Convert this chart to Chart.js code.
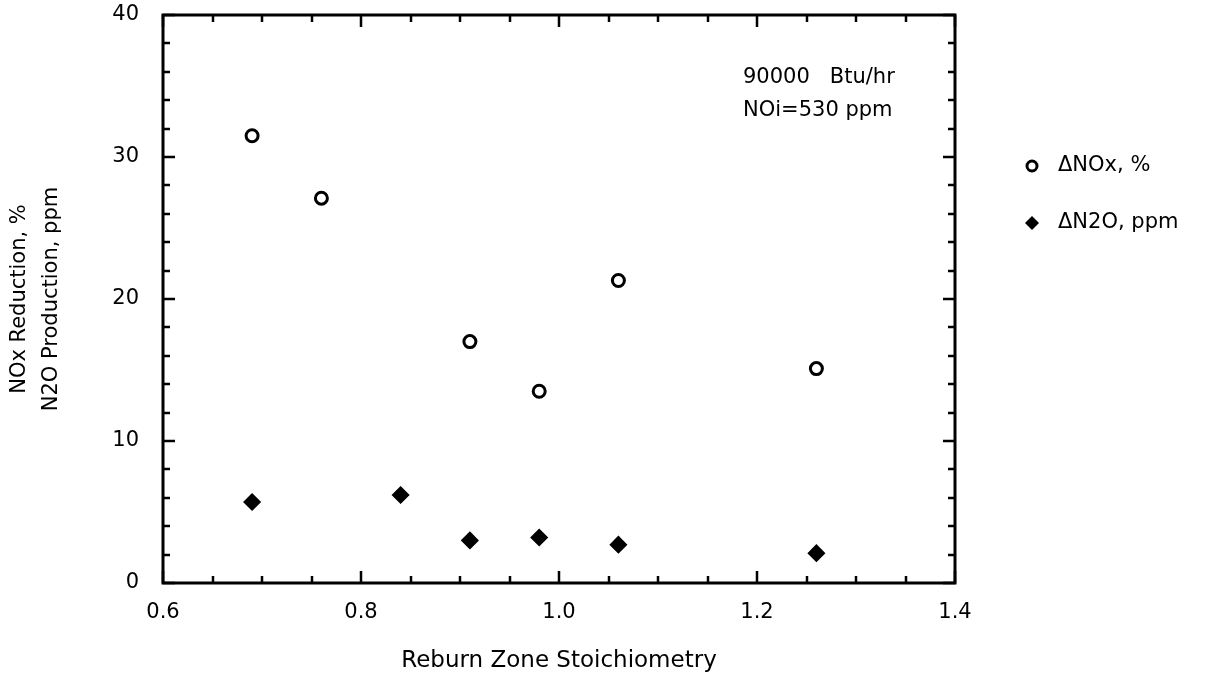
<!DOCTYPE html>
<html lang="en">
<head>
<meta charset="UTF-8">
<title>Reburn Zone Stoichiometry</title>
<script src="https://cdn.jsdelivr.net/npm/chart.js"></script>
<style>
  html, body { margin: 0; padding: 0; background: #fff; }
  #wrap { width: 1215px; height: 680px; }
</style>
</head>
<body>
<div id="wrap"><canvas id="myChart" width="1215" height="680"></canvas></div>
<script>
// data
const noxLabel = 'ΔNOx, %';
const noxX = [0.69, 0.76, 0.91, 0.98, 1.06, 1.26];
const noxY = [31.5, 27.1, 17.0, 13.5, 21.3, 15.1];

const n2oLabel = 'ΔN2O, ppm';
const n2oX = [0.69, 0.84, 0.91, 0.98, 1.06, 1.26];
const n2oY = [5.7, 6.2, 3.0, 3.2, 2.7, 2.1];

const xTicks = [0.6, 0.8, 1.0, 1.2, 1.4];
const yTicks = [0, 10, 20, 30, 40];
const noteLines = ['90000   Btu/hr', 'NOi=530 ppm'];

const FONT = '"DejaVu Sans", Arial, sans-serif';

function pts(xs, ys) {
  return xs.map((x, i) => ({ x: x, y: ys[i] }));
}

// frame, inward ticks on all four sides, legend and note
const decor = {
  id: 'decor',
  afterDraw(chart) {
    const ctx = chart.ctx;
    const a = chart.chartArea;
    const xs = chart.scales.x, ys = chart.scales.y;
    ctx.save();
    ctx.strokeStyle = '#000';
    ctx.fillStyle = '#000';
    ctx.lineWidth = 3;
    ctx.strokeRect(a.left, a.top, a.right - a.left, a.bottom - a.top);

    ctx.lineWidth = 2.5;
    ctx.beginPath();
    for (let i = 0; i <= 16; i++) {
      const v = 0.6 + i * 0.05;
      const px = Math.round(xs.getPixelForValue(v));
      const len = (i % 4 === 0) ? 12 : 7;
      ctx.moveTo(px, a.bottom); ctx.lineTo(px, a.bottom - len);
      ctx.moveTo(px, a.top); ctx.lineTo(px, a.top + len);
    }
    for (let v = 0; v <= 40; v += 2) {
      const py = Math.round(ys.getPixelForValue(v));
      const len = (v % 10 === 0) ? 12 : 7;
      ctx.moveTo(a.left, py); ctx.lineTo(a.left + len, py);
      ctx.moveTo(a.right, py); ctx.lineTo(a.right - len, py);
    }
    ctx.stroke();

    // note text
    ctx.font = '21px ' + FONT;
    ctx.textBaseline = 'middle';
    ctx.textAlign = 'left';
    noteLines.forEach((t, i) => ctx.fillText(t, a.left + 580, a.top + 63 + i * 33));

    // legend
    const lx = a.right + 77;
    chart.data.datasets.forEach((ds, i) => {
      const ly = a.top + 151 + i * 57;
      ctx.beginPath();
      if (ds.pointStyle === 'circle') {
        ctx.lineWidth = 3;
        ctx.arc(lx, ly, 5, 0, Math.PI * 2);
        ctx.stroke();
      } else {
        ctx.moveTo(lx, ly - 7); ctx.lineTo(lx + 7, ly);
        ctx.lineTo(lx, ly + 7); ctx.lineTo(lx - 7, ly);
        ctx.closePath();
        ctx.fill();
      }
      ctx.fillText(ds.label, lx + 26, ly);
    });
    ctx.restore();
  }
};

const ctx = document.getElementById('myChart').getContext('2d');
new Chart(ctx, {
  type: 'scatter',
  data: {
    datasets: [{
      label: noxLabel,
      data: pts(noxX, noxY),
      pointStyle: 'circle',
      pointRadius: 6,
      pointBorderWidth: 3,
      pointBorderColor: '#000',
      pointBackgroundColor: '#fff'
    }, {
      label: n2oLabel,
      data: pts(n2oX, n2oY),
      pointStyle: 'rectRot',
      pointRadius: 8,
      pointBorderWidth: 1.5,
      pointBorderColor: '#000',
      pointBackgroundColor: '#000'
    }]
  },
  options: {
    responsive: false,
    animation: false,
    layout: { padding: { left: 0, top: 15, right: 260, bottom: 0 } },
    plugins: {
      legend: { display: false },
      tooltip: { enabled: false }
    },
    scales: {
      x: {
        type: 'linear',
        min: 0.6, max: 1.4,
        afterBuildTicks: s => { s.ticks = xTicks.map(v => ({ value: v })); },
        afterFit: s => { s.height = 97; s.paddingLeft = 0; s.paddingRight = 0; },
        ticks: {
          color: '#000',
          padding: 9,
          font: { family: FONT, size: 21 },
          callback: v => Number(v).toFixed(1)
        },
        grid: { display: false },
        border: { display: false },
        title: {
          display: true,
          text: 'Reburn Zone Stoichiometry',
          color: '#000',
          font: { family: FONT, size: 23, lineHeight: 1.2 },
          padding: { top: 0, bottom: 5 }
        }
      },
      y: {
        type: 'linear',
        min: 0, max: 40,
        afterBuildTicks: s => { s.ticks = yTicks.map(v => ({ value: v })); },
        afterFit: s => { s.width = 163; s.paddingTop = 0; s.paddingBottom = 0; },
        ticks: {
          color: '#000',
          padding: 16,
          font: { family: FONT, size: 21 }
        },
        grid: { display: false },
        border: { display: false },
        title: {
          display: true,
          text: ['NOx Reduction, %', 'N2O Production, ppm'],
          color: '#000',
          font: { family: FONT, size: 21, lineHeight: 1.5 },
          padding: { top: 4, bottom: 0 }
        }
      }
    }
  },
  plugins: [decor]
});
</script>
</body>
</html>
